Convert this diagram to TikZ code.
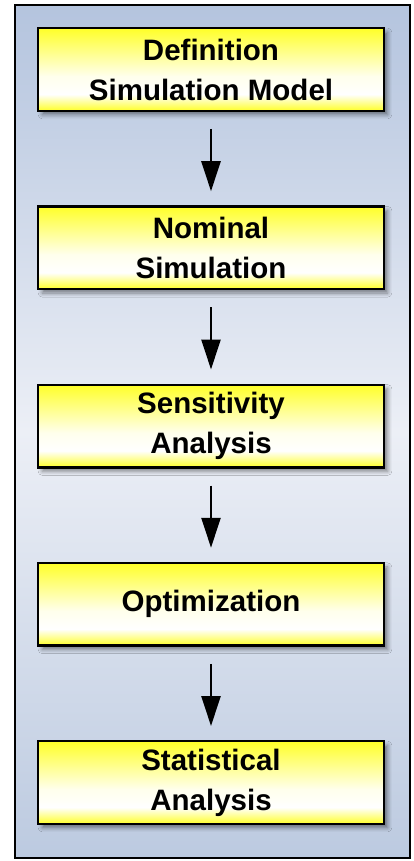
\documentclass[tikz,border=0pt]{standalone}
\usepackage{fontspec}
\setmainfont{Liberation Sans}
\usetikzlibrary{arrows.meta,shadows.blur}

\definecolor{stepyellow}{RGB}{255,255,40}
\definecolor{steppale}{RGB}{255,255,236}
\definecolor{panelblue}{RGB}{180,196,222}
\definecolor{panelbluelow}{RGB}{188,202,224}
\definecolor{panellight}{RGB}{236,239,246}

% yellow at the top and bottom edges, nearly white a little below the middle
\pgfdeclareverticalshading{stepshade}{100bp}{color(0bp)=(stepyellow); color(25bp)=(stepyellow); color(35bp)=(white); color(46bp)=(steppale); color(75bp)=(stepyellow); color(100bp)=(stepyellow)}
% panel: blue at top and bottom, light in the middle
\pgfdeclareverticalshading{panelshade}{100bp}{color(0bp)=(panelbluelow); color(25bp)=(panelbluelow); color(50bp)=(panellight); color(75bp)=(panelblue); color(100bp)=(panelblue)}

\tikzset{
  stepbox/.style={draw=black, line width=2.4pt, shading=stepshade,
    minimum width=345.6pt, minimum height=82.6pt, inner sep=0pt,
    align=center, font=\fontsize{29.5}{40}\selectfont\bfseries,
    blur shadow={shadow xshift=4pt, shadow yshift=-4pt, shadow blur radius=4pt, shadow opacity=45}},
  flow/.style={line width=2.5pt, -{Triangle[width=19pt,length=30pt]},
    shorten <=17pt, shorten >=14pt}
}

\begin{document}
\begin{tikzpicture}[x=1pt,y=1pt]
\useasboundingbox (0,0) rectangle (414,-861);

% background panel
\draw[line width=2pt, shading=panelshade] (15,-5) rectangle (410,-858);

% process steps
\node[stepbox] (def)  at (211,-69.5)  {Definition\\Simulation Model};
\node[stepbox] (nom)  at (211,-247.75) {Nominal\\Simulation};
\node[stepbox] (sens) at (211,-426)   {Sensitivity\\Analysis};
\node[stepbox] (opt)  at (211,-604.25) {Optimization};
\node[stepbox] (stat) at (211,-782.5) {Statistical\\Analysis};

% connectors
\draw[flow] (def)  -- (nom);
\draw[flow] (nom)  -- (sens);
\draw[flow] (sens) -- (opt);
\draw[flow] (opt)  -- (stat);
\end{tikzpicture}
\end{document}
